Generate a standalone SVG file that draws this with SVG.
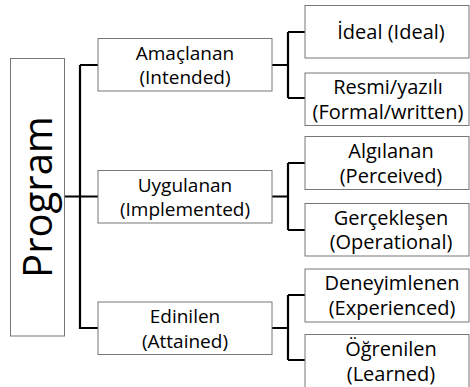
<svg xmlns="http://www.w3.org/2000/svg" width="470" height="387" viewBox="0 0 470 387">
<style>
.box{fill:#fff;stroke:#767676;stroke-width:1}
.t{font-family:"Open Sans","Noto Sans","Liberation Sans",sans-serif;font-size:19px;fill:#000;text-anchor:middle}
.t2{font-family:"Open Sans","Noto Sans","Liberation Sans",sans-serif;font-size:20px;fill:#000;text-anchor:middle}
.big{font-family:"Open Sans","Noto Sans","Liberation Sans",sans-serif;font-size:40px;fill:#000;text-anchor:middle}
.c{fill:none;stroke:#000;stroke-width:2.2}
</style>
<rect width="470" height="387" fill="#fff"/>
<g id="connectors">
<path class="c" d="M64.5 196.5H98M80 65V328H98M80 65H98"/>
<path class="c" d="M272 65H288M288 32V98M288 32H305M288 98H305"/>
<path class="c" d="M272 196.5H288M288 163V230M288 163H305M288 230H305"/>
<path class="c" d="M272 328H288M288 295V360M288 295H305M288 360H305"/>
</g>
<g id="program"><rect class="box" x="10.5" y="58.5" width="54" height="277.5"/><text class="big" transform="translate(51.5 197) rotate(-90)">Program</text></g>
<g id="amaclanan"><rect class="box" x="98" y="38.5" width="174" height="52.5"/><text class="t" x="185" y="59.5">Amaçlanan</text><text class="t" x="185" y="84">(Intended)</text></g>
<g id="uygulanan"><rect class="box" x="98" y="170.5" width="174" height="52.5"/><text class="t" x="185" y="191.5">Uygulanan</text><text class="t" x="185" y="216">(Implemented)</text></g>
<g id="edinilen"><rect class="box" x="98" y="302" width="174" height="52.5"/><text class="t" x="185" y="323">Edinilen</text><text class="t" x="185" y="347.5">(Attained)</text></g>
<g id="ideal"><rect class="box" x="305" y="5.5" width="164" height="52.5"/><text class="t2" x="391" y="39">İdeal (Ideal)</text></g>
<g id="resmi"><rect class="box" x="305" y="73" width="164" height="52.5"/><text class="t2" x="388" y="94">Resmi/yazılı</text><text class="t2" x="388" y="118.5">(Formal/written)</text></g>
<g id="algilanan"><rect class="box" x="305" y="136.5" width="164" height="53"/><text class="t2" x="391" y="158">Algılanan</text><text class="t2" x="391" y="182.5">(Perceived)</text></g>
<g id="gerceklesen"><rect class="box" x="305" y="203.5" width="164" height="52.5"/><text class="t2" x="391" y="224.5">Gerçekleşen</text><text class="t2" x="391" y="249">(Operational)</text></g>
<g id="deneyimlenen"><rect class="box" x="305" y="269" width="164" height="53"/><text class="t2" x="392" y="290">Deneyimlenen</text><text class="t2" x="392" y="314.5">(Experienced)</text></g>
<g id="ogrenilen"><rect class="box" x="305" y="334.5" width="164" height="60"/><text class="t2" x="391" y="356">Öğrenilen</text><text class="t2" x="391" y="380.5">(Learned)</text></g>
</svg>
